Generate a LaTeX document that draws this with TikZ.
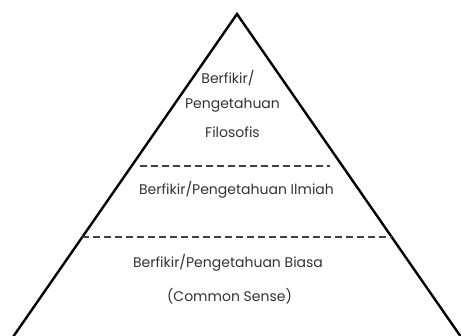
\documentclass[tikz,border=0pt]{standalone}
\usepackage{fontspec}
\setmainfont{Poppins}
\begin{document}
\begin{tikzpicture}[x=1pt,y=-1pt,
  edge/.style={line width=2.4pt,black,line join=miter},
  sep/.style={line width=2pt,color=black!75,dash pattern=on 7pt off 4pt},
  lbl/.style={font=\fontsize{14}{16}\selectfont,text=black!80,inner sep=0pt,anchor=center}]
\useasboundingbox (0,0) rectangle (461,336);
\coordinate (apex) at (237,14);
\coordinate (bl) at (13,337);
\coordinate (br) at (461,337);
\draw[edge] (bl) -- (apex) -- (br);
\coordinate (d1a) at (140,166.5);
\coordinate (d1b) at (330,166.5);
\coordinate (d2a) at (82,237.5);
\coordinate (d2b) at (392,237.5);
\draw[sep] (d1a) -- (d1b);
\draw[sep] (d2a) -- (d2b);
\node[lbl] (t1) at (228,78) {Berfikir/};
\node[lbl] (t2) at (232.5,105) {Pengetahuan};
\node[lbl] (t3) at (232.5,132) {Filosofis};
\node[lbl] (t4) at (236.5,190) {Berfikir/Pengetahuan Ilmiah};
\node[lbl] (t5) at (228,263) {Berfikir/Pengetahuan Biasa};
\node[lbl] (t6) at (229.5,296) {(Common Sense)};
\end{tikzpicture}
\end{document}
